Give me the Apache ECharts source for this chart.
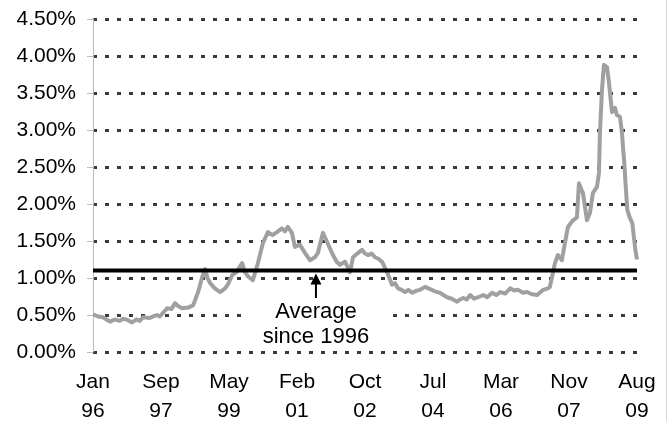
<!DOCTYPE html>
<html>
<head>
<meta charset="utf-8">
<script src="https://cdn.jsdelivr.net/npm/echarts@6/dist/echarts.min.js"></script>
<style>
html,body{margin:0;padding:0;background:#fff;}
#chart{width:667px;height:421px;}
</style>
</head>
<body>
<div id="chart"></div>
<script>
// Months elapsed since January 1996 for each observation
var monthsSinceJan96 = [
  0, 1.5, 3, 4, 5.1, 6.5, 8, 9, 10.5, 11.7, 13, 14, 15, 17, 19.2, 20, 21, 22.2, 23.5, 24.6, 25.5, 26.7, 28.5,
  30, 31.5, 32.7, 33.6, 34.3, 35.1, 36.5, 38.1, 39.6, 40.5, 41.7, 43, 44.7, 45.5, 46.5, 47.9, 49.4, 50.9, 52.4, 53.8,
  55.1, 56.6, 57.5, 58.4, 59.6, 60.5, 62, 63.5, 65, 66.5, 67.4, 68.9, 70.1, 71.9, 73, 74, 75.5, 77, 77.9, 79.2,
  80.6, 81.5, 82.4, 83.5, 84.5, 85.5, 86.6, 88.1, 89.6, 90.5, 91.4, 92.5, 93.5, 94.5, 95.6, 97, 98, 99.5, 101, 102.5, 104, 105, 106.1,
  107.5, 109.1, 110, 110.9, 112, 113, 114.2, 115.4, 117, 118.1, 119.6, 120.8, 122, 123.5, 125, 126.2, 127.4, 128.8, 130.1, 131.5, 133.1,
  134.9, 136.3, 136.9, 137.8, 138.4, 139.3, 140.5, 141.4, 142.3, 143.8, 145, 145.6, 146.3, 146.8, 148, 148.9, 149.8, 151, 151.6, 151.9,
  152.5, 153.1, 154, 154.6, 155.5, 156.4, 157, 157.9, 158.5, 158.8, 159.2, 159.5, 160.1, 160.8, 161.6, 162.5, 163
];
// Rate in percent
var rate = [
  0.51, 0.48, 0.47, 0.44, 0.41, 0.44, 0.42, 0.45, 0.43, 0.40, 0.44, 0.42, 0.47, 0.46, 0.50, 0.48, 0.53, 0.59, 0.58, 0.66, 0.62, 0.59, 0.60,
  0.63, 0.81, 1.01, 1.12, 1.00, 0.93, 0.86, 0.81, 0.86, 0.92, 1.04, 1.08, 1.20, 1.08, 1.02, 0.97, 1.20, 1.47, 1.62, 1.58,
  1.62, 1.67, 1.63, 1.69, 1.61, 1.42, 1.45, 1.34, 1.24, 1.28, 1.34, 1.61, 1.49, 1.31, 1.22, 1.18, 1.22, 1.08, 1.28, 1.33,
  1.38, 1.33, 1.31, 1.33, 1.28, 1.26, 1.22, 1.08, 0.91, 0.93, 0.86, 0.84, 0.81, 0.84, 0.80, 0.83, 0.84, 0.88, 0.85, 0.82, 0.80, 0.77, 0.74,
  0.72, 0.68, 0.71, 0.73, 0.71, 0.77, 0.72, 0.74, 0.77, 0.74, 0.80, 0.77, 0.81, 0.79, 0.86, 0.83, 0.84, 0.80, 0.81, 0.78, 0.77,
  0.84, 0.86, 0.88, 1.07, 1.20, 1.31, 1.24, 1.47, 1.69, 1.78, 1.82, 2.28, 2.20, 2.15, 1.78, 1.88, 2.15, 2.23, 2.42, 2.96,
  3.54, 3.88, 3.85, 3.64, 3.24, 3.30, 3.20, 3.18, 2.96, 2.77, 2.55, 2.32, 1.92, 1.82, 1.74, 1.38, 1.25
];
var averageSince1996 = 1.10;
var xTickLabels = ['Jan\n96', 'Sep\n97', 'May\n99', 'Feb\n01', 'Oct\n02', 'Jul\n04', 'Mar\n06', 'Nov\n07', 'Aug\n09'];
var annotationText = 'Average\nsince 1996';
var annotationMonth = 66.8;

var lastMonth = 163;
var xInterval = lastMonth / (xTickLabels.length - 1);
var FONT = '"Liberation Sans", Arial, sans-serif';

var seriesData = monthsSinceJan96.map(function (m, i) { return [m, rate[i]]; });

var chart = echarts.init(document.getElementById('chart'), null, {renderer: 'canvas'});
chart.setOption({
  animation: false,
  backgroundColor: '#ffffff',
  grid: {left: 93, right: 30, top: 19, bottom: 69, containLabel: false, outerBoundsMode: 'none'},
  xAxis: {
    type: 'value', min: 0, max: lastMonth, interval: xInterval,
    axisLine: {show: false}, axisTick: {show: false}, splitLine: {show: false},
    axisLabel: {
      fontFamily: FONT, fontSize: 21, color: '#000', lineHeight: 29, margin: 16,
      showMinLabel: true, showMaxLabel: true,
      formatter: function (v) { return xTickLabels[Math.round(v / xInterval)] || ''; }
    }
  },
  yAxis: {
    type: 'value', min: 0, max: 4.5, interval: 0.5,
    axisLine: {show: true, lineStyle: {color: '#bdbdbd', width: 1}},
    axisTick: {show: true, length: 6, lineStyle: {color: '#bdbdbd'}},
    splitLine: {show: true, lineStyle: {color: '#3a3a3a', width: 3, type: [4, 8]}},
    axisLabel: {
      fontFamily: FONT, fontSize: 21, color: '#000', margin: 17,
      formatter: function (v) { return v.toFixed(2) + '%'; }
    }
  },
  series: [
    {
      type: 'line', data: seriesData, showSymbol: false, symbol: 'none', z: 2,
      lineStyle: {color: '#a0a0a0', width: 4, join: 'round'}
    },
    {
      type: 'line', data: [[0, averageSince1996], [lastMonth, averageSince1996]],
      showSymbol: false, symbol: 'none', z: 3,
      lineStyle: {color: '#000', width: 4}
    }
  ]
});

var tip = chart.convertToPixel({gridIndex: 0}, [annotationMonth, averageSince1996 - 0.04]);
var base = chart.convertToPixel({gridIndex: 0}, [annotationMonth, 0.73]);
var cx = tip[0];
chart.setOption({
  graphic: [
    {type: 'rect', z: 10, shape: {x: cx - 71, y: base[1] - 2, width: 147, height: 51}, style: {fill: '#fff'}},
    {type: 'line', z: 11, shape: {x1: cx, y1: base[1], x2: cx, y2: tip[1] + 9}, style: {stroke: '#000', lineWidth: 2}},
    {type: 'polygon', z: 11, shape: {points: [[cx, tip[1]], [cx - 5.5, tip[1] + 11], [cx + 5.5, tip[1] + 11]]}, style: {fill: '#000'}},
    {type: 'text', z: 11, x: cx, y: base[1] + 1, style: {text: annotationText, fontFamily: FONT, fontSize: 22, lineHeight: 25, fill: '#000', align: 'center', verticalAlign: 'top'}},
    {type: 'line', z: 11, shape: {x1: 666.5, y1: 0, x2: 666.5, y2: 421}, style: {stroke: '#d6d6d6', lineWidth: 1}}
  ]
});
</script>
</body>
</html>
